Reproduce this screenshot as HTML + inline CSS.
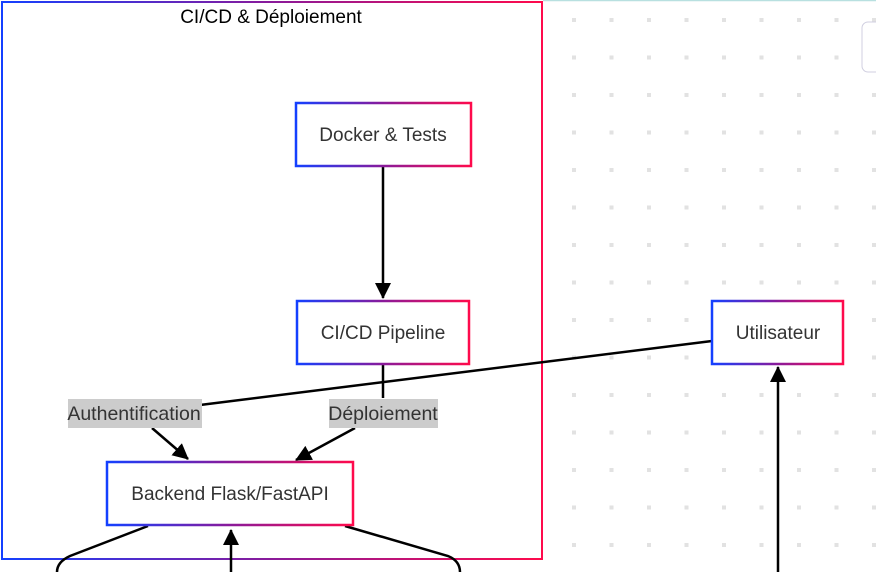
<!DOCTYPE html>
<html><head><meta charset="utf-8"><style>
html,body{margin:0;padding:0;background:#fff;width:876px;height:572px;overflow:hidden}
svg{display:block;font-family:"Liberation Sans",Arial,sans-serif}
</style></head><body>
<svg width="876" height="572" viewBox="0 0 876 572" xmlns="http://www.w3.org/2000/svg">
<defs>
<linearGradient id="g" x1="0" y1="0" x2="1" y2="0"><stop offset="0" stop-color="#1440ff"/><stop offset="0.5" stop-color="#8a1a9a"/><stop offset="1" stop-color="#ff0a4c"/></linearGradient>
<pattern id="dots" x="543" y="0" width="37.5" height="37.5" patternUnits="userSpaceOnUse"><rect x="29" y="18" width="4" height="4" fill="#e2e2e2"/></pattern>
<marker id="a" markerWidth="16" markerHeight="16" refX="15" refY="8" orient="auto" markerUnits="userSpaceOnUse" viewBox="0 0 16 16"><path d="M0,0 L16,8 L0,16 z" fill="#000"/></marker>
</defs>
<rect x="543" y="0" width="333" height="572" fill="url(#dots)"/>
<line x1="543" y1="0.5" x2="876" y2="0.5" stroke="#b8e0e0" stroke-width="1.5"/>
<rect x="862" y="22" width="20" height="50" rx="6" fill="#fff" stroke="#d0cfe0"/>
<rect x="2" y="2" width="540" height="557" fill="none" stroke="url(#g)" stroke-width="2"/>
<text x="271" y="23" font-size="19" text-anchor="middle" fill="#000">CI/CD &amp; Déploiement</text>
<g stroke="#000" stroke-width="2.5" fill="none">
<line x1="383" y1="166" x2="383" y2="298" marker-end="url(#a)"/>
<path d="M383,364 L383,398"/>
<path d="M355,428 L296,460" marker-end="url(#a)"/>
<path d="M712,341 L200,405"/>
<path d="M152,428 L188,459" marker-end="url(#a)"/>
<line x1="778" y1="572" x2="778" y2="367" marker-end="url(#a)"/>
<line x1="231" y1="572" x2="231" y2="530" marker-end="url(#a)"/>
<path d="M148,526 L70,556 Q57,562 57,572"/>
<path d="M345,526 L448,556 Q460,561 460,572"/>
</g>
<g fill="#fff" stroke="url(#g)" stroke-width="2.5">
<rect x="296" y="103" width="175" height="63"/>
<rect x="297" y="301" width="172" height="63"/>
<rect x="712" y="301" width="131" height="63"/>
<rect x="107" y="462" width="246" height="63"/>
</g>
<g font-size="19" fill="#333" text-anchor="middle">
<text x="383" y="141">Docker &amp; Tests</text>
<text x="383" y="339">CI/CD Pipeline</text>
<text x="778" y="339">Utilisateur</text>
<text x="230" y="500">Backend Flask/FastAPI</text>
</g>
<rect x="68" y="399" width="134" height="29" fill="#cccccc"/>
<rect x="329" y="399" width="109" height="29" fill="#cccccc"/>
<g font-size="19.5" fill="#333" text-anchor="middle">
<text x="134" y="420">Authentification</text>
<text x="383" y="420">Déploiement</text>
</g>
</svg>
</body></html>
